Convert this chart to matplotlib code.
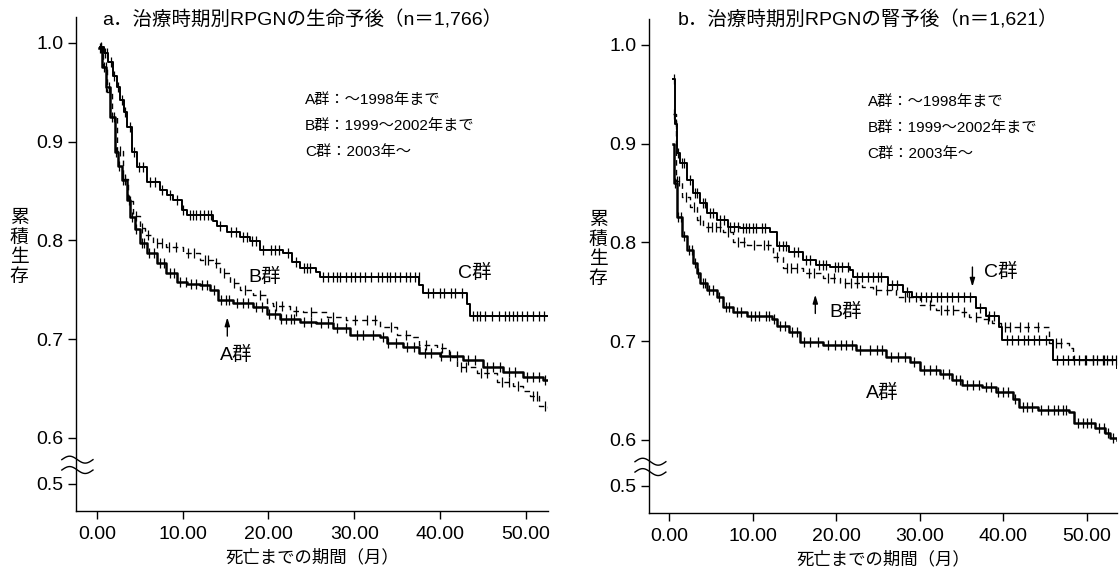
import numpy as np
import matplotlib
matplotlib.use('Agg')
import matplotlib.pyplot as plt

plt.rcParams['font.family'] = ['Liberation Sans', 'Noto Sans CJK JP']

# ---- a. 生命予後 (n=1,766) ----
a_A_t = [0.2, 0.6, 1.0, 1.5, 2.1, 2.5, 2.9, 3.5, 3.9, 4.4, 5.0, 5.8, 7.0, 8.1, 9.3, 10.5,
         12.0, 13.2, 14.1, 15.9, 18.2, 19.8, 21.3, 23.7, 25.6, 27.5, 29.5, 33.0, 33.8, 35.7,
         37.6, 40.0, 42.7, 45.0, 47.3, 49.7, 52.0, 52.6]
a_A_v = [0.995, 0.975, 0.955, 0.925, 0.889, 0.875, 0.861, 0.841, 0.824, 0.811, 0.797, 0.787,
         0.777, 0.767, 0.758, 0.756, 0.755, 0.750, 0.740, 0.737, 0.732, 0.725, 0.720, 0.717,
         0.716, 0.711, 0.704, 0.702, 0.696, 0.692, 0.686, 0.683, 0.679, 0.672, 0.667, 0.662,
         0.659, 0.659]
a_B_t = [0.2, 0.7, 1.2, 1.7, 2.3, 3.0, 3.6, 4.2, 5.0, 5.6, 6.5, 8.1, 10.0, 12.0, 13.5, 14.3,
         15.5, 16.7, 18.2, 19.8, 20.5, 22.5, 24.0, 26.8, 29.0, 33.0, 35.0, 36.8, 37.6, 39.6,
         41.1, 42.0, 44.3, 46.6, 48.5, 49.7, 50.5, 51.5, 52.6]
a_B_v = [0.995, 0.975, 0.950, 0.925, 0.890, 0.862, 0.840, 0.825, 0.812, 0.805, 0.797, 0.793,
         0.787, 0.780, 0.777, 0.767, 0.757, 0.750, 0.745, 0.737, 0.733, 0.728, 0.727, 0.722,
         0.719, 0.712, 0.704, 0.702, 0.694, 0.691, 0.682, 0.672, 0.666, 0.657, 0.652, 0.647,
         0.642, 0.632, 0.630]
a_C_t = [0.3, 0.8, 1.3, 1.9, 2.3, 2.7, 3.1, 3.5, 4.1, 4.7, 5.8, 7.3, 8.2, 8.9, 9.9, 10.5,
         13.5, 14.0, 15.2, 16.7, 17.8, 19.0, 21.7, 22.8, 23.7, 25.6, 26.0, 37.6, 38.0, 43.1,
         43.5, 52.6]
a_C_v = [0.996, 0.990, 0.980, 0.966, 0.955, 0.942, 0.930, 0.915, 0.889, 0.874, 0.859, 0.851,
         0.846, 0.841, 0.831, 0.826, 0.820, 0.814, 0.808, 0.803, 0.799, 0.790, 0.787, 0.778,
         0.772, 0.768, 0.763, 0.755, 0.747, 0.735, 0.723, 0.723]
a_A_cens = [0.4, 0.8, 1.1, 1.4, 1.8, 2.2, 2.6, 3.0, 3.3, 3.7, 4.1, 4.6, 5.2, 5.5, 6.1, 6.6, 7.3,
            7.8, 8.5, 9.0, 9.7, 10.4, 11.0, 11.6, 12.3, 12.8, 13.6, 14.5, 15.0, 15.4, 16.3,
            17.0, 17.6, 18.5, 19.2, 20.1, 20.8, 21.5, 22.0, 22.6, 23.0, 24.2, 25.0, 26.1, 27.0,
            28.0, 29.1, 30.3, 31.0, 32.2, 33.4, 34.0, 34.9, 36.1, 37.0, 38.2, 39.0, 40.1, 41.2,
            42.0, 43.3, 44.1, 45.5, 46.2, 47.0, 48.1, 48.8, 50.2, 50.9, 51.6, 52.3]
a_B_cens = [0.5, 1.0, 1.5, 2.0, 2.7, 3.3, 3.9, 4.6, 5.3, 6.0, 7.0, 7.6, 8.4, 9.2, 10.6, 11.3,
            12.6, 13.0, 13.9, 14.8, 16.0, 17.3, 19.0, 20.9, 21.6, 23.2, 25.0, 27.5, 30.1, 31.5,
            32.4, 34.3, 36.0, 38.4, 40.2, 42.5, 43.0, 44.8, 45.5, 47.2, 48.0, 49.1, 50.9, 51.3,
            52.2]
a_C_cens = [0.5, 0.9, 1.2, 1.6, 2.0, 2.4, 2.9, 3.3, 3.8, 4.3, 4.9, 5.4, 6.2, 6.8, 7.6, 8.5,
            9.3, 10.0, 10.8, 11.2, 11.6, 12.0, 12.5, 13.0, 13.3, 14.3, 15.6, 16.2, 17.0, 17.5,
            18.1, 18.6, 19.4, 20.3, 20.8, 21.2, 22.3, 23.2, 24.1, 24.5, 24.9, 26.4, 26.9, 27.5,
            28.0, 28.4, 29.0, 29.6, 30.1, 30.7, 31.3, 32.0, 32.8, 33.2, 33.8, 34.2, 34.7, 35.3,
            36.0, 36.5, 37.1, 37.5, 38.6, 39.2, 40.0, 40.5, 41.3, 41.8, 42.6, 43.9, 44.3, 44.7,
            45.2, 46.1, 46.9, 47.6, 48.0, 48.5, 49.0, 49.6, 50.2, 50.8, 51.5, 52.1]

# ---- b. 腎予後 (n=1,621) ----
b_A_t = [0.5, 0.6, 0.9, 1.5, 2.2, 2.9, 3.3, 3.7, 4.5, 5.7, 6.5, 7.7, 9.3, 12.3, 12.9, 14.4,
         15.7, 18.4, 22.4, 26.0, 28.8, 30.0, 32.4, 33.9, 35.1, 37.5, 39.1, 41.1, 41.9, 44.2,
         47.8, 48.5, 51.0, 52.2, 52.8, 53.6]
b_A_v = [0.900, 0.860, 0.826, 0.806, 0.792, 0.779, 0.769, 0.759, 0.752, 0.745, 0.735, 0.729,
         0.725, 0.722, 0.715, 0.709, 0.699, 0.696, 0.691, 0.684, 0.679, 0.671, 0.667, 0.661,
         0.656, 0.654, 0.648, 0.641, 0.633, 0.630, 0.628, 0.617, 0.612, 0.607, 0.602, 0.600]
b_B_t = [0.5, 0.8, 1.6, 2.5, 3.4, 4.1, 6.5, 7.7, 9.3, 12.4, 13.6, 16.0, 18.4, 20.4, 23.1,
         24.4, 27.2, 30.0, 31.9, 34.7, 35.9, 37.5, 38.7, 39.7, 45.1, 45.5, 47.8, 48.3, 53.6]
b_B_v = [0.930, 0.862, 0.846, 0.836, 0.823, 0.816, 0.810, 0.800, 0.797, 0.785, 0.774, 0.769,
         0.764, 0.759, 0.755, 0.752, 0.745, 0.737, 0.732, 0.729, 0.724, 0.722, 0.718, 0.714,
         0.714, 0.698, 0.693, 0.681, 0.676]
b_C_t = [0.5, 0.7, 1.0, 1.3, 2.2, 2.9, 3.7, 4.5, 5.7, 7.0, 8.5, 12.1, 12.9, 14.4, 16.0, 17.6,
         19.3, 21.6, 22.0, 25.8, 26.2, 28.0, 29.1, 36.4, 36.7, 37.9, 39.5, 39.8, 45.6, 45.9,
         52.7, 53.6]
b_C_v = [0.965, 0.920, 0.890, 0.880, 0.863, 0.850, 0.840, 0.830, 0.823, 0.816, 0.815, 0.810,
         0.796, 0.790, 0.782, 0.777, 0.775, 0.772, 0.765, 0.765, 0.757, 0.750, 0.745, 0.745,
         0.734, 0.725, 0.714, 0.701, 0.701, 0.681, 0.681, 0.673]
b_A_cens = [0.7, 1.1, 1.4, 1.8, 2.4, 2.7, 3.1, 3.5, 4.0, 4.3, 4.8, 5.3, 6.0, 6.8, 7.2, 8.1,
            8.6, 9.8, 10.3, 10.8, 11.6, 12.0, 12.6, 13.3, 13.9, 14.7, 15.3, 16.2, 16.9, 17.8,
            19.0, 19.8, 20.6, 21.2, 21.9, 22.9, 24.1, 24.9, 25.5, 26.6, 27.4, 28.2, 29.3, 30.5,
            31.2, 31.9, 32.8, 33.5, 34.3, 34.8, 35.6, 36.4, 37.1, 37.9, 38.5, 39.4, 39.9, 40.6,
            41.4, 42.3, 42.8, 43.4, 44.5, 45.3, 46.1, 46.6, 47.1, 47.5, 48.9, 49.5, 50.0, 50.5,
            51.5, 52.0, 52.5, 53.1]
b_B_cens = [0.6, 0.9, 1.2, 2.0, 3.0, 3.7, 4.6, 5.1, 5.6, 6.1, 7.1, 8.2, 9.0, 10.2, 11.3, 11.8,
            12.9, 14.1, 14.6, 15.3, 16.8, 17.4, 19.0, 19.7, 21.1, 21.8, 22.5, 24.8, 26.1, 28.2,
            28.7, 31.2, 32.6, 33.3, 34.0, 35.3, 36.7, 38.2, 40.2, 40.8, 42.0, 43.0, 44.2, 46.3,
            46.9, 49.8, 50.7, 52.0, 53.0, 53.5]
b_C_cens = [0.6, 0.8, 1.1, 1.5, 1.8, 2.5, 3.1, 3.4, 4.0, 4.3, 4.9, 5.3, 6.1, 6.6, 7.3, 7.8,
            8.2, 8.8, 9.2, 9.6, 10.0, 10.4, 11.1, 11.5, 13.2, 13.6, 14.0, 15.0, 15.4, 16.4, 16.9,
            18.0, 18.4, 18.8, 19.8, 20.2, 20.7, 21.4, 22.5, 23.1, 23.8, 24.4, 25.0, 25.4, 26.7,
            27.3, 28.5, 29.5, 30.1, 30.7, 31.4, 32.1, 32.6, 33.3, 33.8, 34.6, 35.3, 36.0, 37.2,
            38.3, 38.9, 40.4, 41.0, 41.8, 42.5, 43.0, 43.7, 44.3, 45.1, 46.4, 47.1, 47.7, 48.4,
            49.0, 49.9, 50.7, 51.2, 51.9, 52.4]

x_ticks = [0, 10, 20, 30, 40, 50]
x_ticklabels = ['0.00', '10.00', '20.00', '30.00', '40.00', '50.00']
y_ticks = [0.5, 0.6, 0.7, 0.8, 0.9, 1.0]
y_ticklabels = ['0.5', '0.6', '0.7', '0.8', '0.9', '1.0']
legend_lines = ['A群：～1998年まで', 'B群：1999～2002年まで', 'C群：2003年～']

# 軸の省略 (0.5-0.6 を圧縮)
BRK = 0.6
SQ = 0.466


def fwd(y):
    y = np.asarray(y, dtype=float)
    return np.where(y < BRK, BRK - (BRK - y) * SQ, y)


def inv(f):
    f = np.asarray(f, dtype=float)
    return np.where(f < BRK, BRK - (BRK - f) / SQ, f)


def step_at(t, v, c):
    idx = np.searchsorted(np.asarray(t), np.asarray(c), side='right') - 1
    idx = np.clip(idx, 0, len(v) - 1)
    return np.asarray(v)[idx]


def draw_group(ax, t, v, cens, ls, lw):
    ax.plot(t, v, drawstyle='steps-post', color='k', lw=lw, ls=ls)
    ax.plot(cens, step_at(t, v, cens), ls='none', marker='|', ms=6.5, mew=0.9, color='k')


def setup(ax, xmin, xmax):
    ax.set_yscale('function', functions=(fwd, inv))
    ax.set_xlim(xmin, xmax)
    ax.set_ylim(0.441, 1.026)
    ax.set_xticks(x_ticks)
    ax.set_xticklabels(x_ticklabels)
    ax.set_yticks(y_ticks)
    ax.set_yticklabels(y_ticklabels)
    ax.minorticks_off()
    for s in ['top', 'right']:
        ax.spines[s].set_visible(False)
    for s in ['left', 'bottom']:
        ax.spines[s].set_linewidth(1.0)
    ax.tick_params(direction='out', length=6, width=1, labelsize=14, pad=3)
    ax.tick_params(axis='x', pad=5)
    # 省略記号
    xx = np.linspace(-0.03, 0.036, 40)
    wave = 0.007 * np.sin((xx + 0.03) / 0.066 * 2 * np.pi)
    for y0 in (0.104, 0.083):
        ax.plot(xx, y0 + wave, color='k', lw=1, transform=ax.transAxes, clip_on=False)
    ax.set_xlabel('死亡までの期間（月）', fontsize=12.5, labelpad=4)


arrow = dict(arrowstyle='-|>,head_width=0.15,head_length=0.5', color='k',
             lw=1, mutation_scale=10, shrinkA=0, shrinkB=0)

fig = plt.figure(figsize=(11.19, 5.72), dpi=100)
ax1 = fig.add_axes([0.0679, 0.1066, 0.4218, 0.8636])
ax2 = fig.add_axes([0.58, 0.103, 0.4182, 0.8636])

setup(ax1, -2.45, 52.6)
draw_group(ax1, a_A_t, a_A_v, a_A_cens, '-', 1.8)
draw_group(ax1, a_B_t, a_B_v, a_B_cens, (0, (4, 3)), 1.0)
draw_group(ax1, a_C_t, a_C_v, a_C_cens, '-', 1.4)
ax1.text(19.6, 0.763, 'B群', fontsize=14, ha='center', va='center')
ax1.text(44.1, 0.767, 'C群', fontsize=14, ha='center', va='center')
ax1.text(16.2, 0.684, 'A群', fontsize=14, ha='center', va='center')
ax1.annotate('', xy=(15.2, 0.722), xytext=(15.2, 0.703), arrowprops=arrow)

setup(ax2, -2.4, 53.6)
draw_group(ax2, b_A_t, b_A_v, b_A_cens, '-', 1.8)
draw_group(ax2, b_B_t, b_B_v, b_B_cens, (0, (4, 3)), 1.0)
draw_group(ax2, b_C_t, b_C_v, b_C_cens, '-', 1.4)
ax2.text(39.7, 0.770, 'C群', fontsize=14, ha='center', va='center')
ax2.text(21.1, 0.730, 'B群', fontsize=14, ha='center', va='center')
ax2.text(25.5, 0.648, 'A群', fontsize=14, ha='center', va='center')
ax2.annotate('', xy=(36.3, 0.755), xytext=(36.3, 0.775), arrowprops=arrow)
ax2.annotate('', xy=(17.5, 0.747), xytext=(17.5, 0.728), arrowprops=arrow)

for ax, x0 in ((ax1, 0.485), (ax2, 0.467)):
    for i, s in enumerate(legend_lines):
        ax.text(x0, 0.832 - i * 0.053, s, fontsize=11, ha='left', va='center',
                transform=ax.transAxes)

fig.text(302 / 1119, 1 - 20 / 572, 'a．治療時期別RPGNの生命予後（n＝1,766）',
         fontsize=14, ha='center', va='center')
fig.text(868 / 1119, 1 - 20 / 572, 'b．治療時期別RPGNの腎予後（n＝1,621）',
         fontsize=14, ha='center', va='center')
for xc, yc in ((19, 248), (598, 250)):
    fig.text(xc / 1119, 1 - yc / 572, '累\n積\n生\n存', fontsize=13.5, ha='center',
             va='center', linespacing=1.2)

fig.savefig('out.png', dpi=100)
